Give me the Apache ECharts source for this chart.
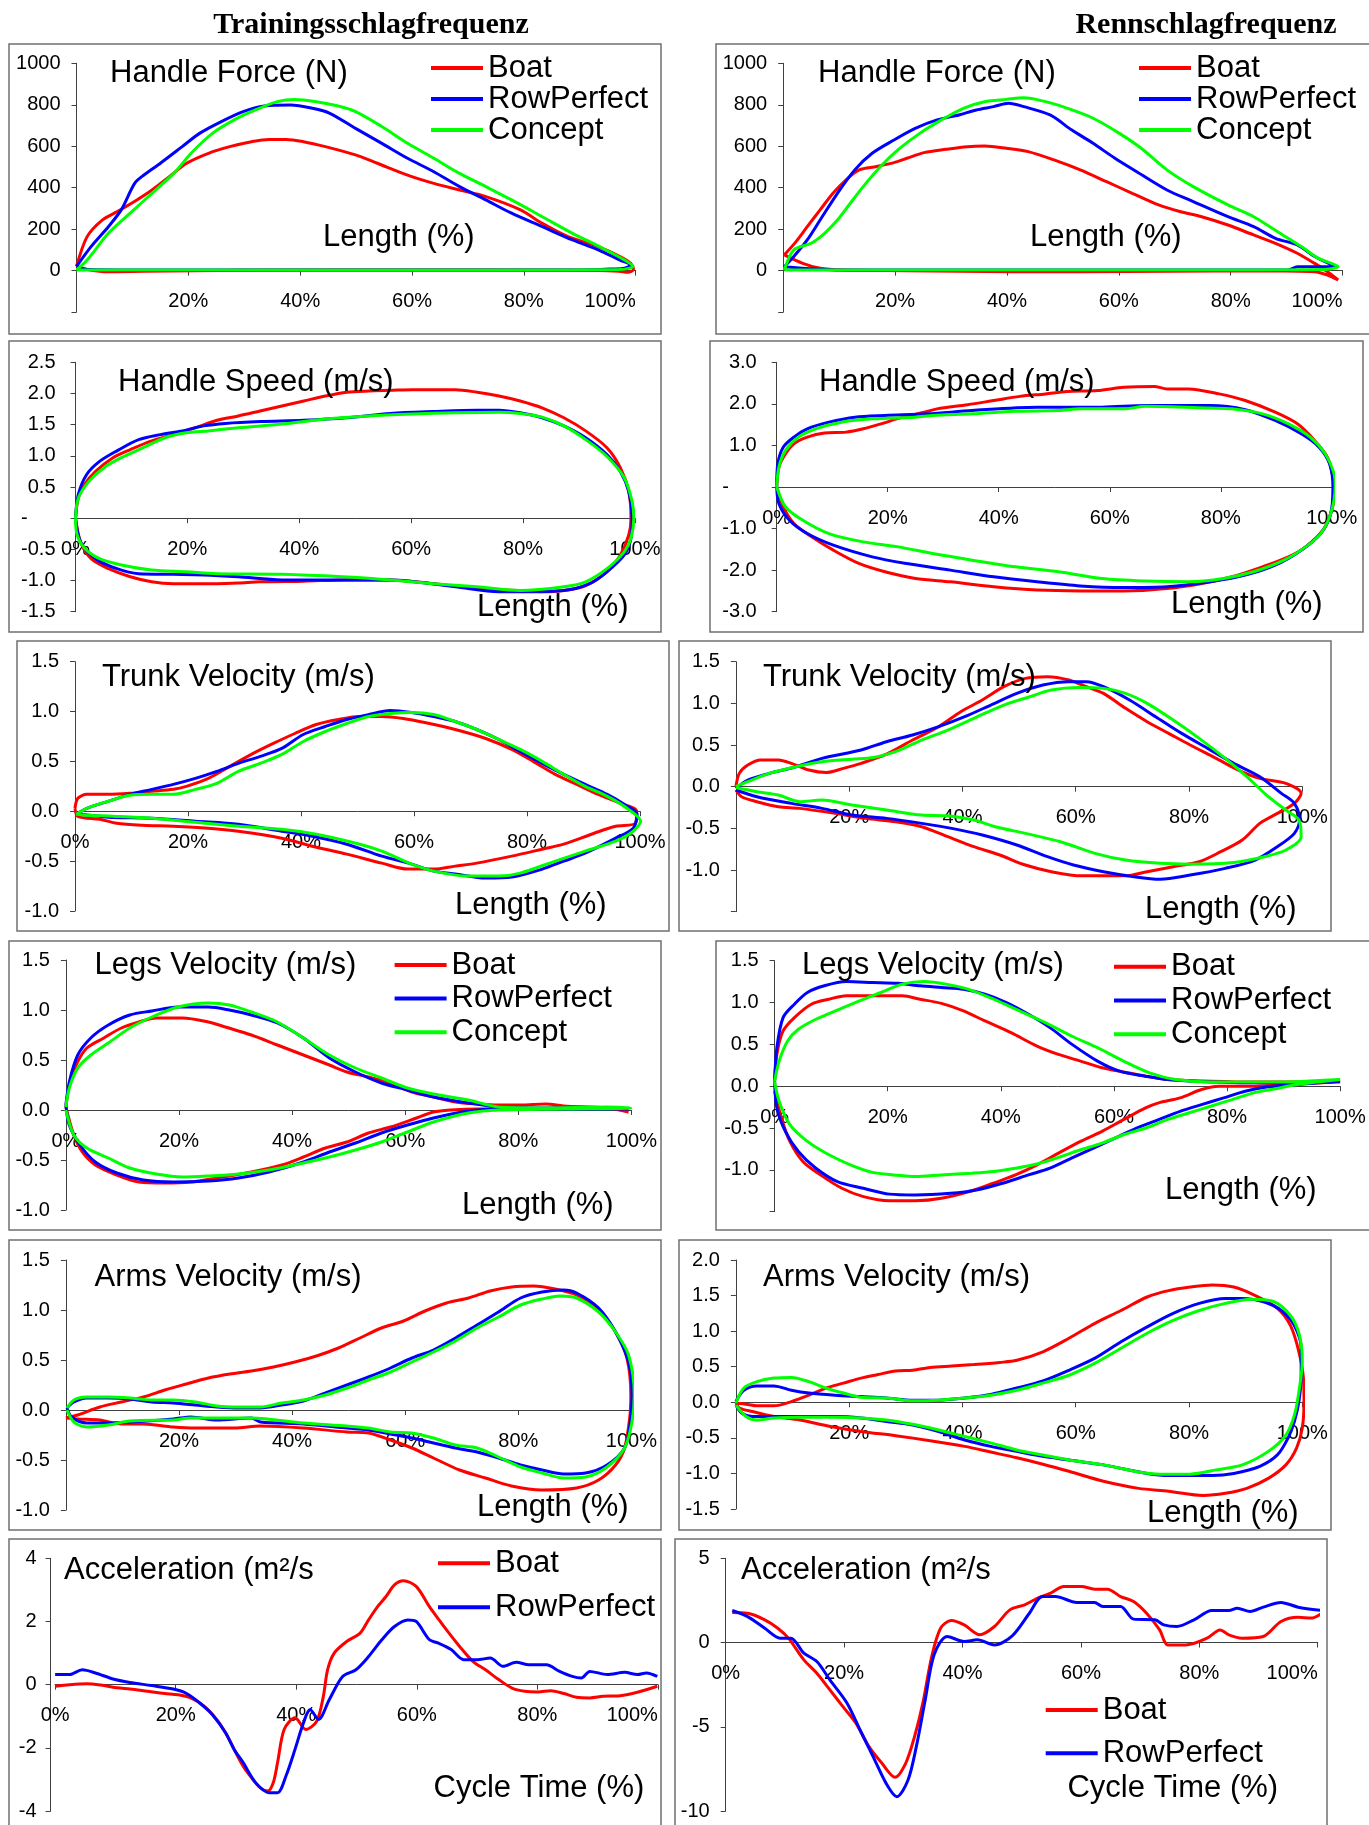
<!DOCTYPE html>
<html><head><meta charset="utf-8">
<script src="https://cdn.jsdelivr.net/npm/echarts@6/dist/echarts.min.js"></script>
<style>html,body{margin:0;padding:0;background:#fff}#c{width:1369px;height:1825px}</style>
</head><body><div id="c"></div>
<script>
// ---------- DATA: [length %, value] along each loop ----------
const hfTrainBoat=[[0,20],[1.9,164],[4.6,244],[7.3,285],[10.8,341],[13.5,389],[16.6,453],[19.7,518],[23.6,566],[27.4,598],[31.3,622],[34.4,633],[37.5,633],[40.6,622],[44.5,598],[49.9,558],[53.8,518],[59.2,461],[63.9,421],[68.5,389],[73.2,357],[79.4,293],[83.3,228],[87.9,164],[93.3,116],[97.2,68],[99.1,35],[99.6,5],[98.6,-8],[97,-3],[90,2],[60,3],[30,2],[12,-3],[5,-5],[2,5],[0,20]];
const hfTrainRP=[[0,20],[2.6,116],[5.7,212],[8,293],[10.4,421],[12,460],[15,518],[18.9,598],[22,662],[25.9,719],[29.8,767],[33.6,794],[38.3,799],[42.2,783],[45.3,759],[49.9,686],[54.6,614],[59.2,542],[63.9,477],[68.5,405],[73.2,341],[77.8,277],[83.3,212],[88.7,148],[93.3,100],[97.2,51],[99.1,27],[98,12],[96,8],[90,3],[50,3],[10,3],[2,5],[0,20]];
const hfTrainConcept=[[0,3],[1.9,51],[5.7,180],[9.6,277],[13.5,373],[17.4,469],[20.5,566],[24.3,662],[28.2,727],[32,775],[35.9,815],[39,826],[42.9,815],[46.8,794],[49.9,767],[54.6,695],[59.2,614],[63.9,542],[68.5,469],[73.2,405],[77.8,341],[83.3,260],[88.7,180],[94.1,108],[98,51],[99.5,20],[97,5],[80,3],[40,3],[10,3],[0,3]];

const hfRaceBoat=[[0.2,76],[2.3,140],[4.3,212],[6.6,293],[8.9,373],[11.2,437],[13.6,486],[16.7,502],[19.8,521],[22.1,542],[25.2,569],[29.1,585],[32.9,598],[36,601],[39.9,590],[43.8,574],[48.4,534],[53.1,486],[57.8,429],[62.4,373],[67.1,317],[70.9,285],[74.8,260],[79.5,220],[84.1,172],[88,132],[91.9,84],[95,35],[97.3,-5],[99.2,-45],[97.3,-21],[95,-5],[85,0],[53,-5],[41,-5],[22,0],[10.5,3],[6.6,11],[3.5,35],[0.2,76]];
const hfRaceRP=[[0.2,19],[1.9,68],[4.3,148],[6.6,244],[9.7,373],[12.8,486],[15.9,566],[19.8,630],[23.6,686],[27.5,727],[31.4,751],[34.5,775],[37.6,791],[40.3,807],[43,791],[47.7,751],[51.6,678],[55.4,614],[59.3,542],[63.2,477],[68.6,389],[73.3,333],[79.5,260],[84.1,212],[88,156],[91.9,124],[95,68],[98.8,19],[95,19],[91.9,19],[90.3,3],[50,3],[10,3],[0.2,19]];
const hfRaceConcept=[[0.2,3],[1.9,100],[5,132],[7.4,180],[9.7,244],[12,325],[14.3,405],[17.4,502],[20.5,582],[24.4,662],[28.3,727],[32.2,783],[36,815],[39.9,826],[43,834],[46.9,815],[50.8,783],[55.4,735],[60.1,662],[64,590],[68.6,486],[73.3,405],[79.5,317],[84.1,260],[88.8,180],[92.6,116],[95.7,59],[99.2,19],[96,5],[80,3],[40,3],[10,3],[0.2,3]];

const hsTrainBoat=[[0,0],[0.5,0.32],[1.6,0.54],[3.6,0.75],[6.7,0.97],[9.8,1.10],[13.6,1.24],[17.5,1.34],[21.4,1.45],[25.3,1.57],[29.1,1.64],[33,1.72],[36.9,1.80],[40.8,1.88],[44.7,1.96],[48.5,2.02],[52.4,2.04],[56.3,2.05],[60.2,2.06],[67.9,2.06],[71.8,2.02],[75.7,1.96],[79.5,1.88],[83.4,1.77],[87.3,1.61],[91.2,1.40],[95,1.13],[97.4,0.81],[98.9,0.43],[99.3,0],[98.9,-0.27],[97.4,-0.59],[95,-0.86],[91.2,-1.08],[87.3,-1.16],[83.4,-1.18],[79.5,-1.16],[71.8,-1.13],[64,-1.05],[56.3,-0.99],[48.5,-0.99],[40.8,-1.01],[33,-1.02],[29.1,-1.04],[25.3,-1.05],[17.5,-1.05],[13.6,-1.02],[9.8,-0.94],[5.9,-0.81],[2.8,-0.65],[0.9,-0.38],[0,0]];
const hsTrainRP=[[0,0],[0.5,0.38],[2,0.70],[4.3,0.91],[7.4,1.08],[11.3,1.26],[15.2,1.34],[19.1,1.40],[22.9,1.48],[26.8,1.52],[33,1.55],[40.8,1.57],[48.5,1.61],[56.3,1.68],[64,1.71],[71.8,1.73],[75.7,1.73],[79.5,1.69],[83.4,1.61],[87.3,1.48],[91.2,1.29],[95,1.02],[97.4,0.75],[98.9,0.43],[99.5,0],[99.3,-0.32],[98.1,-0.59],[95,-0.86],[91.9,-1.05],[87.3,-1.16],[79.5,-1.18],[75.7,-1.18],[67.9,-1.10],[56.3,-0.99],[48.5,-0.99],[36.9,-0.99],[29.1,-0.94],[22.9,-0.91],[17.5,-0.90],[11.3,-0.89],[7.4,-0.81],[3.6,-0.65],[0.9,-0.38],[0,0]];
const hsTrainConcept=[[0,0],[0.5,0.32],[2.4,0.59],[5.1,0.81],[8.2,0.97],[12.1,1.13],[16,1.29],[19.8,1.37],[23.7,1.40],[29.1,1.45],[36.9,1.51],[44.7,1.59],[52.4,1.64],[60.2,1.67],[67.9,1.69],[75.7,1.70],[79.5,1.68],[83.4,1.62],[87.3,1.48],[91.2,1.26],[95,0.99],[98.1,0.65],[99.5,0.27],[99.8,0],[99.3,-0.32],[98.1,-0.54],[95,-0.81],[91.2,-1.02],[87.3,-1.10],[79.5,-1.16],[71.8,-1.10],[64,-1.05],[56.3,-0.99],[47.7,-0.94],[36.9,-0.90],[25.3,-0.89],[19.8,-0.86],[13.6,-0.83],[8.2,-0.75],[4.3,-0.65],[1.6,-0.48],[0.3,-0.27],[0,0]];

const hsRaceBoat=[[0,0],[0.4,0.48],[1.6,0.8],[3.1,1.04],[5.5,1.2],[8.6,1.30],[12.5,1.32],[15.6,1.40],[18.8,1.52],[22.7,1.68],[26.6,1.80],[28.9,1.88],[34.4,1.98],[39.1,2.08],[43.8,2.18],[48.4,2.24],[52.3,2.30],[57.8,2.32],[62.5,2.40],[68,2.42],[70.3,2.36],[74.2,2.36],[79.7,2.24],[84.4,2.08],[89.8,1.80],[93.8,1.52],[96.9,1.12],[99.2,0.72],[100.2,0.24],[100.4,-0.16],[100,-0.56],[98.4,-1.04],[95.3,-1.44],[92.2,-1.68],[87.5,-1.92],[82,-2.16],[76.6,-2.32],[70.3,-2.44],[62.5,-2.50],[54.7,-2.50],[46.9,-2.48],[39.1,-2.40],[31.3,-2.28],[25,-2.20],[19.5,-2.04],[14.8,-1.84],[10.2,-1.52],[6.3,-1.20],[3.1,-0.88],[1.2,-0.48],[0,0]];
const hsRaceRP=[[0,0],[0.2,0.56],[1.2,0.96],[3.1,1.2],[5.5,1.40],[9.4,1.56],[14.1,1.68],[19.5,1.72],[27.3,1.76],[35.2,1.84],[46.9,1.92],[58.6,1.92],[66.4,1.96],[78.1,1.96],[84.4,1.86],[89.8,1.60],[94.5,1.28],[97.7,0.96],[99.6,0.56],[100.2,0],[99.8,-0.64],[98,-1.12],[94.5,-1.52],[89.8,-1.88],[84.4,-2.12],[78.1,-2.28],[70.3,-2.40],[62.5,-2.42],[54.7,-2.38],[46.9,-2.28],[39.1,-2.16],[31.3,-2.0],[23.4,-1.84],[17.2,-1.68],[10.2,-1.40],[5.5,-1.12],[2.3,-0.80],[0.4,-0.40],[0,0]];
const hsRaceConcept=[[0,0],[0.4,0.48],[1.6,0.88],[3.9,1.2],[7,1.40],[11.7,1.56],[17.2,1.64],[25,1.68],[28.1,1.72],[35.2,1.76],[43,1.82],[50.8,1.84],[54.7,1.88],[62.5,1.88],[66.4,1.94],[78.1,1.90],[82,1.88],[87.5,1.76],[92.2,1.52],[96.1,1.2],[98.8,0.8],[100.4,0.32],[100.6,0],[99.8,-0.64],[98,-1.12],[95.3,-1.44],[91.4,-1.76],[85.9,-2.04],[80.5,-2.20],[74.2,-2.28],[66.4,-2.26],[58.6,-2.20],[50.8,-2.04],[43,-1.92],[35.2,-1.76],[28.1,-1.60],[21.9,-1.44],[15.6,-1.32],[9.4,-1.12],[4.7,-0.80],[1.6,-0.48],[0,0]];

const tvTrainBoat=[[0,0.03],[0.5,0.13],[2.1,0.17],[5.9,0.17],[9.7,0.18],[13.6,0.2],[17.4,0.22],[19.7,0.25],[23.6,0.33],[27.4,0.45],[31.2,0.57],[35.1,0.68],[38.9,0.78],[42.7,0.87],[46.6,0.92],[50.4,0.95],[54.3,0.95],[58.1,0.93],[61.9,0.89],[67.3,0.82],[72.7,0.73],[77.3,0.62],[81.1,0.5],[85,0.37],[88.8,0.27],[92.6,0.17],[96.5,0.08],[99.4,0],[99.2,-0.12],[95.7,-0.15],[91.9,-0.22],[86.5,-0.33],[82.7,-0.38],[77.3,-0.45],[71.1,-0.52],[67.3,-0.55],[63.5,-0.58],[58.9,-0.58],[54.3,-0.52],[48.1,-0.43],[42,-0.35],[36.6,-0.27],[28.9,-0.2],[23.6,-0.17],[17.4,-0.15],[12,-0.14],[7.4,-0.12],[4.4,-0.08],[0.5,-0.05],[0,0.03]];
const tvTrainRP=[[0.2,-0.03],[2.1,0.03],[5.9,0.1],[9.7,0.17],[13.6,0.22],[17.4,0.27],[21.3,0.33],[25.1,0.4],[28.9,0.48],[32.8,0.55],[36.6,0.63],[40.4,0.77],[44.3,0.85],[48.1,0.92],[52,0.97],[55.8,1.01],[59.6,0.99],[63.5,0.95],[67.3,0.9],[71.1,0.82],[75,0.72],[78.8,0.6],[82.7,0.48],[86.5,0.37],[90.3,0.27],[94.2,0.17],[97.2,0.07],[99.5,-0.03],[98.8,-0.17],[95.7,-0.27],[90.3,-0.42],[86.5,-0.5],[82.7,-0.58],[77.3,-0.66],[72.7,-0.67],[67.3,-0.63],[63.5,-0.6],[59.6,-0.53],[54.3,-0.45],[48.1,-0.33],[42,-0.25],[36.6,-0.2],[28.9,-0.13],[21.3,-0.1],[13.6,-0.07],[5.9,-0.06],[0.5,-0.03],[0.2,-0.03]];
const tvTrainConcept=[[0.2,-0.03],[2.1,0.03],[5.9,0.1],[9.7,0.16],[13.6,0.17],[17.4,0.17],[21.3,0.22],[25.1,0.28],[28.9,0.4],[32.8,0.48],[36.6,0.57],[40.4,0.7],[44.3,0.8],[48.1,0.88],[52,0.95],[55.8,0.98],[59.6,0.99],[63.5,0.97],[67.3,0.9],[71.1,0.82],[75,0.72],[78.8,0.62],[82.7,0.5],[86.5,0.37],[90.3,0.25],[94.2,0.15],[97.2,0.05],[100.1,-0.1],[98.8,-0.2],[95.7,-0.3],[90.3,-0.4],[85,-0.5],[78.8,-0.62],[75,-0.65],[69.6,-0.65],[63.5,-0.6],[59.6,-0.53],[54.3,-0.4],[50.4,-0.33],[42.7,-0.23],[36.6,-0.18],[28.9,-0.15],[21.3,-0.11],[13.6,-0.07],[6.7,-0.05],[2.1,-0.04],[0.2,-0.03]];

const tvRaceBoat=[[0,0],[0.6,0.16],[2.1,0.26],[4.4,0.32],[7.5,0.32],[9.8,0.28],[12.9,0.2],[15.9,0.17],[19,0.22],[22.1,0.28],[26.6,0.39],[31.2,0.56],[35.8,0.72],[39.7,0.9],[43.5,1.04],[47.3,1.2],[51.1,1.3],[55,1.32],[58.8,1.28],[61.9,1.2],[64.9,1.12],[68.8,0.94],[72.6,0.78],[76.4,0.64],[80.2,0.5],[84.8,0.34],[88.7,0.2],[92.5,0.1],[97.1,0.04],[99.8,-0.08],[98.6,-0.2],[95.6,-0.32],[92.5,-0.44],[89.4,-0.64],[85.6,-0.78],[81.8,-0.9],[77.2,-0.96],[72.6,-1.02],[68.8,-1.07],[61.1,-1.07],[55.7,-1.02],[51.1,-0.94],[46.6,-0.82],[42,-0.72],[37.4,-0.6],[32.8,-0.48],[28.2,-0.42],[22.8,-0.38],[17.5,-0.32],[11.3,-0.26],[7.5,-0.24],[3.7,-0.18],[1,-0.12],[0,-0.04]];
const tvRaceRP=[[0,-0.02],[2.1,0.08],[5.9,0.16],[10.6,0.24],[15.2,0.34],[22.1,0.44],[26.6,0.54],[31.2,0.62],[35.8,0.72],[40.4,0.84],[45,0.98],[49.6,1.12],[54.2,1.22],[58.8,1.26],[61.9,1.26],[64.9,1.2],[69.5,1.04],[74.1,0.84],[78.7,0.64],[83.3,0.46],[87.9,0.28],[92.5,0.12],[96.3,-0.08],[98.6,-0.2],[99.5,-0.4],[98.6,-0.56],[95.6,-0.72],[91.7,-0.88],[86.4,-0.98],[80.2,-1.06],[74.9,-1.11],[70.3,-1.08],[64.9,-1.02],[59.6,-0.94],[55,-0.84],[49.6,-0.7],[43.5,-0.58],[38.1,-0.5],[32.8,-0.44],[26.6,-0.38],[20.5,-0.34],[15.2,-0.26],[9.8,-0.2],[3.7,-0.12],[0,-0.04]];
const tvRaceConcept=[[0,0],[2.1,0.06],[5.9,0.16],[10.6,0.24],[15.2,0.3],[20.5,0.33],[24.3,0.35],[28.2,0.42],[32.8,0.56],[37.4,0.68],[42,0.82],[47.3,0.98],[51.9,1.08],[55.7,1.16],[60.3,1.19],[64.9,1.18],[68.8,1.12],[72.6,1.0],[77.2,0.8],[81.8,0.58],[86.4,0.34],[90.2,0.12],[94,-0.12],[97.1,-0.28],[99.4,-0.4],[99.8,-0.6],[97.1,-0.76],[93.3,-0.84],[87.9,-0.91],[80.2,-0.93],[74.9,-0.92],[68.8,-0.88],[63.4,-0.8],[57.3,-0.66],[51.1,-0.56],[45.8,-0.48],[42,-0.4],[37.4,-0.35],[32.8,-0.34],[26.6,-0.28],[20.5,-0.22],[15.2,-0.16],[11.3,-0.18],[7.5,-0.1],[3.7,-0.06],[0,-0.01]];

const lvTrainBoat=[[0,0.03],[0.6,0.25],[1.8,0.45],[3.7,0.62],[6.7,0.72],[9.8,0.82],[12.9,0.88],[16,0.92],[20.6,0.92],[25.2,0.88],[28.2,0.83],[32.8,0.75],[37.4,0.65],[42,0.55],[46.6,0.45],[49.7,0.38],[53.5,0.33],[57.4,0.27],[61.2,0.18],[65,0.13],[68.9,0.08],[72.7,0.06],[76.5,0.05],[80.4,0.05],[84.9,0.06],[88,0.04],[95.7,0.02],[99.5,-0.02],[95.7,0.02],[88,0.02],[80.4,0.01],[72.7,0.01],[68.1,0],[65,-0.02],[62,-0.08],[57.4,-0.17],[53.5,-0.23],[49.7,-0.32],[45.9,-0.38],[42,-0.47],[38.2,-0.55],[32.8,-0.62],[26.7,-0.68],[22.1,-0.72],[17.5,-0.73],[12.9,-0.72],[9,-0.65],[5.2,-0.55],[2.9,-0.42],[1.4,-0.25],[0,0.03]];
const lvTrainRP=[[0,0.05],[0.6,0.28],[2.1,0.55],[4.4,0.72],[7.5,0.85],[11.3,0.95],[15.2,0.99],[19.8,1.03],[25.2,1.03],[28.9,1.0],[32.8,0.95],[37.4,0.87],[42,0.72],[46.6,0.52],[51.2,0.38],[55.8,0.27],[60.4,0.2],[65,0.13],[71.2,0.07],[76.5,0.03],[84.2,0.02],[91.9,0.02],[99.5,0.01],[88,0.01],[76.5,0.01],[71.2,-0.01],[65,-0.08],[60.4,-0.15],[55.8,-0.23],[51.2,-0.33],[46.6,-0.42],[42,-0.52],[35.9,-0.62],[30.5,-0.68],[25.2,-0.71],[19,-0.72],[13.7,-0.7],[9,-0.63],[5.2,-0.52],[2.5,-0.35],[0.6,-0.15],[0,0.05]];
const lvTrainConcept=[[0,0.03],[0.6,0.22],[2.1,0.42],[4.4,0.55],[7.5,0.67],[11.3,0.82],[15.2,0.93],[19.8,1.03],[25.2,1.07],[28.9,1.05],[32.8,0.98],[37.4,0.88],[42,0.72],[46.6,0.55],[51.2,0.42],[55.8,0.32],[60.4,0.22],[65,0.16],[71.2,0.1],[76.5,0.03],[84.2,0.02],[95.7,0.03],[99.9,0.02],[88,0.01],[76.5,0],[71.2,-0.03],[65,-0.12],[60.4,-0.22],[55.8,-0.32],[51.2,-0.4],[46.6,-0.47],[42,-0.53],[35.9,-0.6],[30.5,-0.64],[25.2,-0.66],[20.6,-0.67],[16,-0.64],[11.3,-0.58],[7.5,-0.48],[3.7,-0.38],[1.4,-0.25],[0,0]];

const lvRaceBoat=[[0,0.06],[0.4,0.38],[1.5,0.66],[3.5,0.82],[6.5,0.98],[9.6,1.04],[12.7,1.08],[17.3,1.08],[22.6,1.08],[25.7,1.04],[29.5,0.99],[33.4,0.9],[37.2,0.78],[41.8,0.64],[46.4,0.48],[50.2,0.38],[54.1,0.3],[57.9,0.22],[61.7,0.17],[65.6,0.12],[69.5,0.08],[77.1,0.06],[84.8,0.05],[92.4,0.05],[100,0.05],[92.4,0.03],[84.8,0],[78.6,0],[75.5,-0.04],[71.7,-0.14],[67.9,-0.2],[65.6,-0.26],[61.7,-0.4],[57.9,-0.54],[54.1,-0.66],[50.2,-0.8],[46.4,-0.94],[42.6,-1.06],[38.7,-1.16],[34.9,-1.25],[29.5,-1.34],[24.9,-1.37],[20.3,-1.37],[15.7,-1.32],[11.9,-1.22],[8.1,-1.06],[5,-0.9],[2.7,-0.66],[1.2,-0.38],[0,-0.06]];
const lvRaceRP=[[0,0.06],[0.4,0.46],[1.5,0.82],[3.5,0.98],[5.8,1.12],[8.8,1.2],[12.7,1.25],[17.3,1.24],[21.9,1.23],[25.7,1.2],[29.5,1.18],[33.4,1.16],[37.2,1.1],[41,1.0],[44.9,0.86],[48.7,0.7],[52.6,0.5],[57.1,0.3],[61,0.18],[65.6,0.12],[69.5,0.08],[77.1,0.05],[88.6,0.04],[100,0.06],[92.4,0.02],[87,-0.01],[83.2,-0.06],[79.4,-0.14],[75.5,-0.22],[71.7,-0.3],[67.9,-0.4],[64,-0.5],[60.2,-0.62],[56.4,-0.74],[52.5,-0.86],[48.7,-0.98],[44.9,-1.06],[40.3,-1.16],[35.7,-1.24],[31.1,-1.28],[24.9,-1.3],[20.3,-1.29],[15.7,-1.22],[11.1,-1.14],[7.3,-0.98],[4.2,-0.78],[1.9,-0.54],[0.4,-0.26],[0,0.06]];
const lvRaceConcept=[[0,0.06],[0.8,0.3],[2.3,0.54],[4.2,0.68],[7.3,0.8],[11.1,0.91],[15,1.02],[18.8,1.12],[22.6,1.22],[26.5,1.25],[30.3,1.22],[34.2,1.16],[38.7,1.04],[43.3,0.9],[47.9,0.76],[52.5,0.6],[57.1,0.46],[61.7,0.3],[66.3,0.16],[70.9,0.08],[77.1,0.05],[88.6,0.05],[100,0.08],[92.4,0.02],[88.6,-0.03],[84.7,-0.08],[80.9,-0.16],[77.1,-0.24],[73.2,-0.32],[69.4,-0.4],[65.6,-0.5],[61.7,-0.58],[57.9,-0.68],[54.1,-0.76],[50.2,-0.85],[46.4,-0.93],[42.6,-0.98],[38.7,-1.02],[34.9,-1.04],[29.5,-1.06],[24.9,-1.08],[21.1,-1.06],[17.3,-1.03],[13.4,-0.94],[9.6,-0.82],[5.8,-0.66],[2.7,-0.46],[0.8,-0.18],[0,0.06]];

const avTrainBoat=[[0,-0.08],[2.1,-0.05],[6,0.03],[9.8,0.08],[13.7,0.13],[17.5,0.2],[21.3,0.26],[25.2,0.32],[29,0.36],[32.8,0.39],[36.7,0.43],[40.5,0.48],[44.3,0.54],[48.2,0.62],[52,0.72],[55.8,0.82],[59.7,0.89],[63.5,0.99],[67.3,1.07],[71.2,1.12],[75,1.19],[78.8,1.23],[82.7,1.24],[86.5,1.21],[90.3,1.15],[94.2,1.0],[97.2,0.78],[99.2,0.52],[99.9,0.15],[99.7,-0.08],[98.8,-0.38],[97.2,-0.55],[94.2,-0.7],[90.3,-0.78],[84.2,-0.8],[78.8,-0.76],[74.2,-0.68],[69.6,-0.6],[65,-0.48],[61.2,-0.38],[57.4,-0.3],[53.5,-0.23],[49.7,-0.22],[42,-0.18],[34.4,-0.16],[29.8,-0.18],[22.9,-0.18],[19,-0.17],[13.7,-0.14],[9.8,-0.14],[6,-0.1],[2.1,-0.09],[0,-0.08]];
const avTrainRP=[[0.2,0.02],[1.4,0.08],[3.7,0.12],[7.5,0.12],[11.3,0.11],[15.2,0.08],[19,0.07],[22.9,0.05],[26.7,0.03],[30.5,0.02],[34.4,0.02],[38.2,0.05],[42,0.09],[45.9,0.17],[49.7,0.25],[53.5,0.33],[57.4,0.42],[61.2,0.52],[65,0.6],[68.9,0.72],[72.7,0.85],[76.5,0.98],[80.4,1.12],[84.2,1.18],[88,1.2],[90.3,1.17],[94.2,1.02],[97.2,0.78],[99.5,0.48],[100.1,0.15],[99.8,-0.12],[98.8,-0.38],[95.7,-0.55],[91.9,-0.63],[88,-0.64],[84.2,-0.6],[80.4,-0.55],[76.5,-0.48],[72.7,-0.42],[68.9,-0.38],[65,-0.33],[61.2,-0.28],[57.4,-0.24],[53.5,-0.2],[49.7,-0.18],[42,-0.14],[34.4,-0.12],[32.8,-0.08],[26.7,-0.1],[22.1,-0.07],[19,-0.09],[11.3,-0.12],[7.5,-0.13],[3.7,-0.13],[1,-0.07],[0.2,0.02]];
const avTrainConcept=[[0.2,0.02],[1.4,0.1],[3.7,0.13],[7.5,0.13],[11.3,0.12],[15.2,0.1],[19,0.1],[22.9,0.08],[26.7,0.04],[30.5,0.03],[34.4,0.03],[38.2,0.07],[42,0.1],[45.9,0.15],[49.7,0.22],[53.5,0.3],[57.4,0.38],[61.2,0.48],[65,0.58],[68.9,0.69],[72.7,0.82],[76.5,0.93],[80.4,1.05],[84.2,1.11],[87.3,1.14],[90.3,1.12],[94.2,0.98],[97.2,0.78],[99.5,0.55],[100.5,0.15],[100.1,-0.12],[98.8,-0.38],[95.7,-0.57],[91.9,-0.67],[88,-0.68],[84.2,-0.63],[80.4,-0.57],[76.5,-0.47],[72.7,-0.38],[68.9,-0.35],[65,-0.28],[61.2,-0.23],[57.4,-0.22],[53.5,-0.18],[49.7,-0.16],[42,-0.13],[32.8,-0.08],[26.7,-0.08],[22.1,-0.08],[19,-0.1],[11.3,-0.11],[7.5,-0.15],[3.7,-0.17],[1.4,-0.12],[0.2,0]];

const avRaceBoat=[[0,-0.01],[2.1,-0.03],[3.7,-0.05],[6.7,-0.05],[9.8,0.01],[12.9,0.1],[15.9,0.2],[19,0.27],[22.1,0.34],[25.1,0.39],[28.2,0.44],[31.2,0.45],[34.3,0.49],[38.1,0.51],[42,0.53],[46.6,0.56],[49.6,0.59],[54.2,0.71],[58.8,0.9],[63.4,1.11],[68,1.29],[72.6,1.48],[76.4,1.57],[80.2,1.62],[84.1,1.65],[87.9,1.62],[91.7,1.5],[95.6,1.32],[97.9,1.08],[99.4,0.71],[100.2,0.34],[100.3,0],[100,-0.36],[99,-0.64],[97.1,-0.88],[94,-1.07],[90.2,-1.21],[86.4,-1.28],[82.5,-1.31],[76.4,-1.25],[71.1,-1.21],[64.9,-1.11],[58.8,-0.97],[54.2,-0.87],[49.6,-0.78],[45,-0.7],[40.4,-0.62],[34.3,-0.54],[28.2,-0.47],[22.1,-0.41],[16.7,-0.34],[11.3,-0.25],[6.7,-0.2],[2.9,-0.13],[0.6,-0.08],[0,-0.01]];
const avRaceRP=[[0,0.01],[1.4,0.17],[3.7,0.23],[6.7,0.23],[9.8,0.17],[12.9,0.13],[17.5,0.1],[22.1,0.08],[26.6,0.06],[31.2,0.03],[35.8,0.03],[40.4,0.06],[45,0.11],[49.6,0.2],[54.2,0.3],[58.8,0.45],[63.4,0.62],[68,0.85],[72.6,1.06],[77.2,1.25],[81.8,1.39],[86.4,1.46],[89.4,1.46],[93.3,1.41],[96.3,1.29],[98.6,1.08],[99.8,0.76],[99.8,0.38],[99.4,0.01],[98.6,-0.27],[97.5,-0.5],[95.6,-0.74],[92.5,-0.9],[87.9,-1.0],[84.1,-1.03],[76.4,-1.03],[72.6,-1.0],[64.9,-0.88],[58.8,-0.81],[54.2,-0.76],[49.6,-0.69],[45,-0.62],[40.4,-0.53],[35.8,-0.41],[31.2,-0.32],[26.6,-0.27],[22.1,-0.22],[17.5,-0.2],[12.9,-0.2],[7.5,-0.2],[2.9,-0.2],[1,-0.15],[0,-0.04]];
const avRaceConcept=[[0,-0.01],[1.4,0.2],[3.7,0.29],[6.7,0.34],[9.8,0.35],[12.9,0.29],[15.9,0.2],[19,0.13],[22.1,0.07],[26.6,0.06],[31.2,0.02],[35.8,0.03],[40.4,0.06],[45,0.1],[49.6,0.17],[54.2,0.27],[58.8,0.38],[63.4,0.55],[68,0.76],[72.6,0.97],[77.2,1.15],[81.8,1.29],[86.4,1.39],[91,1.45],[94.8,1.42],[97.9,1.22],[99.5,0.94],[100,0.57],[99.4,0.15],[98.6,-0.18],[97.1,-0.46],[94,-0.69],[89.4,-0.88],[84.8,-0.95],[80.2,-1.01],[74.9,-1.01],[71.1,-0.98],[64.9,-0.88],[58.8,-0.81],[54.2,-0.74],[49.6,-0.67],[45,-0.57],[40.4,-0.48],[35.8,-0.39],[31.2,-0.31],[26.6,-0.25],[22.1,-0.22],[17.5,-0.21],[11.3,-0.21],[6.7,-0.22],[3.7,-0.25],[1.8,-0.2],[0,-0.04]];

// [cycle time %, acceleration]
const accTrainBoat=[[0,-0.05],[2.4,0],[5.3,0.03],[8.1,-0.03],[10.3,-0.1],[12.4,-0.14],[15.3,-0.21],[18.2,-0.28],[20.4,-0.32],[22.5,-0.42],[24.7,-0.68],[26.8,-1.1],[28.3,-1.53],[29.7,-2.05],[31.2,-2.58],[32.6,-2.95],[34,-3.26],[35.3,-3.37],[36.2,-3.1],[36.9,-2.47],[38,-1.42],[39.8,-1.05],[41.6,-1.42],[43.4,-1.16],[44.5,-0.37],[45.2,0.47],[46.3,1.0],[48.4,1.37],[50.6,1.63],[52,2.05],[53.5,2.47],[54.9,2.79],[56.3,3.16],[57.8,3.29],[59.9,3.11],[62.1,2.47],[63.5,2.1],[64.9,1.74],[67.1,1.21],[69.3,0.74],[71.4,0.47],[73.6,0.16],[75.8,-0.11],[77.9,-0.21],[80.1,-0.23],[82.2,-0.19],[84.4,-0.28],[86.5,-0.4],[88.7,-0.42],[90.9,-0.37],[93.7,-0.35],[96.6,-0.24],[99.9,-0.05]];
const accTrainRP=[[0,0.32],[2.4,0.32],[4.5,0.47],[6.7,0.37],[9.6,0.18],[12.4,0.07],[16,-0.03],[19.6,-0.14],[21.8,-0.28],[24,-0.58],[26.1,-0.95],[28.3,-1.53],[29.7,-2.05],[31.2,-2.47],[33.3,-3.11],[35.5,-3.42],[36.9,-3.42],[38.3,-2.89],[39.8,-2.05],[41.2,-1.21],[42.3,-0.79],[43.7,-1.1],[45.5,-0.47],[47.7,0.26],[49.9,0.47],[52,0.89],[54.2,1.42],[56.3,1.84],[58.5,2.05],[59.9,2.0],[62.1,1.42],[63.5,1.32],[65.7,1.11],[67.8,0.79],[70,0.79],[72.2,0.84],[74.3,0.58],[76.5,0.71],[78.6,0.63],[81.5,0.63],[83.7,0.42],[85.8,0.26],[87.3,0.21],[88.7,0.42],[91.6,0.32],[94.5,0.39],[96.6,0.32],[98.1,0.37],[99.9,0.26]];
const accRaceBoat=[[1.1,1.78],[3.7,1.74],[6.6,1.35],[8.8,0.85],[10.6,0.26],[13.2,-1.03],[15.4,-1.82],[17.6,-2.81],[19.8,-3.8],[22,-4.79],[24.2,-6.18],[26.4,-7.17],[28.6,-8.0],[30.4,-7.17],[31.9,-5.58],[33.3,-3.6],[34.8,-0.83],[36.3,0.85],[38.1,1.31],[40.3,1.05],[42.9,0.46],[45.4,0.95],[48,1.94],[50.5,2.24],[52.7,2.63],[54.9,2.93],[57.1,3.33],[60.1,3.33],[62.3,3.17],[64.5,3.17],[66.7,2.73],[68.9,2.44],[71.1,1.74],[73.3,0.75],[74.7,-0.14],[77.7,-0.14],[81.3,0.26],[83.5,0.75],[85,0.46],[87.2,0.26],[90.8,0.36],[93.8,1.25],[96.7,1.5],[98.9,1.45],[100.7,1.74]];
const accRaceRP=[[1.1,1.9],[3.7,1.54],[6.6,0.85],[9.2,0.26],[11,0.26],[13.2,-0.63],[15.4,-1.13],[17.6,-2.22],[20.5,-3.6],[22.7,-5.19],[24.9,-6.77],[27.1,-8.36],[28.9,-9.15],[30.8,-8.16],[32.2,-6.18],[33.7,-3.41],[35.2,-0.73],[37.4,0.36],[40.3,0.06],[42.5,0.16],[45.4,-0.14],[48.4,0.4],[51.3,1.74],[53.5,2.73],[55.7,2.73],[59.3,2.38],[62.3,2.38],[63.7,2.14],[66.7,2.14],[68.9,1.39],[72.5,1.35],[74,1.05],[76.2,0.95],[79.1,1.35],[82.1,1.9],[85,1.9],[86.4,2.04],[88.6,1.84],[90.8,2.1],[93.8,2.38],[96.7,2.1],[100.7,1.9]];

// ---------- labels ----------
const NAMES3=['Boat','RowPerfect','Concept'];
const NAMES2=['Boat','RowPerfect'];
const COLORS={Boat:'#ff0000',RowPerfect:'#0000ff',Concept:'#00ff00'};
const HEADERS=[['Trainingsschlagfrequenz',371,25],['Rennschlagfrequenz',1206,25]];
const FONT='"Liberation Sans", Arial, sans-serif';

const fmtInt=v=>String(Math.round(v));
const fmtHideNeg=v=>v<0?'':String(Math.round(v));
const fmtDash=v=>Math.abs(v)<1e-9?'-     ':v.toFixed(1);
const fmtF1=v=>v.toFixed(1);
const fmtF1HideMin=v=>v<-1.4?'':v.toFixed(1);

// ---------- layout per panel ----------
const panels=[
 {frame:[9,44,652,290],grid:[76.5,63.3,559.2,248.8],y:[-200,1000,200],yf:fmtHideNeg,ym:16,hide0:true,alignMax:true,
  title:['Handle Force (N)',110,73],xname:['Length (%)',323,237],legend:[431,67,29,NAMES3],
  lines:[['Boat',hfTrainBoat],['RowPerfect',hfTrainRP],['Concept',hfTrainConcept]]},
 {frame:[716,44,660,290],grid:[783.2,63.3,559.4,248.8],y:[-200,1000,200],yf:fmtHideNeg,ym:16,hide0:true,alignMax:true,
  title:['Handle Force (N)',818,73],xname:['Length (%)',1030,237],legend:[1139,67,29,NAMES3],
  lines:[['Boat',hfRaceBoat],['RowPerfect',hfRaceRP],['Concept',hfRaceConcept]]},
 {frame:[9,341,652,291],grid:[75.5,362.3,559.4,249.4],y:[-1.5,2.5,0.5],yf:fmtDash,ym:20,hide0:false,
  title:['Handle Speed (m/s)',118,382],xname:['Length (%)',477,607],
  lines:[['Boat',hsTrainBoat],['RowPerfect',hsTrainRP],['Concept',hsTrainConcept]]},
 {frame:[710,341,653,291],grid:[776.7,362.3,555.1,249.4],y:[-3,3,1],yf:fmtDash,ym:20,hide0:false,
  title:['Handle Speed (m/s)',819,382],xname:['Length (%)',1171,604],
  lines:[['Boat',hsRaceBoat],['RowPerfect',hsRaceRP],['Concept',hsRaceConcept]]},
 {frame:[17,641,652,290],grid:[75,661.7,565,249.3],y:[-1,1.5,0.5],yf:fmtF1,ym:16,hide0:false,
  title:['Trunk Velocity (m/s)',102,677],xname:['Length (%)',455,905],
  lines:[['Boat',tvTrainBoat],['RowPerfect',tvTrainRP],['Concept',tvTrainConcept]]},
 {frame:[679,641,652,290],grid:[735.9,661.7,566.4,250],y:[-1.5,1.5,0.5],yf:fmtF1HideMin,ym:16,hide0:true,
  title:['Trunk Velocity (m/s)',763,677],xname:['Length (%)',1145,909],
  lines:[['Boat',tvRaceBoat],['RowPerfect',tvRaceRP],['Concept',tvRaceConcept]]},
 {frame:[9,941,652,289],grid:[65.9,960,565.5,250],y:[-1,1.5,0.5],yf:fmtF1,ym:16,hide0:false,
  title:['Legs Velocity (m/s)',94.5,965],xname:['Length (%)',462,1205],legend:[394.6,965,33.6,NAMES3],
  lines:[['Boat',lvTrainBoat],['RowPerfect',lvTrainRP],['Concept',lvTrainConcept]]},
 {frame:[716,941,660,289],grid:[774.6,960.7,565.5,251],y:[-1.5,1.5,0.5],yf:fmtF1HideMin,ym:16,hide0:false,
  title:['Legs Velocity (m/s)',802,965],xname:['Length (%)',1165,1190],legend:[1114,966.7,33.8,NAMES3],
  lines:[['Boat',lvRaceBoat],['RowPerfect',lvRaceRP],['Concept',lvRaceConcept]]},
 {frame:[9,1240,652,290],grid:[65.9,1260,565.5,250],y:[-1,1.5,0.5],yf:fmtF1,ym:16,hide0:true,
  title:['Arms Velocity (m/s)',94.5,1277],xname:['Length (%)',477,1507],
  lines:[['Boat',avTrainBoat],['RowPerfect',avTrainRP],['Concept',avTrainConcept]]},
 {frame:[679,1240,652,290],grid:[735.9,1260,566.4,249],y:[-1.5,2,0.5],yf:fmtF1,ym:16,hide0:true,
  title:['Arms Velocity (m/s)',763,1277],xname:['Length (%)',1147,1513],
  lines:[['Boat',avRaceBoat],['RowPerfect',avRaceRP],['Concept',avRaceConcept]]},
 {frame:[9,1539,652,300],grid:[55.1,1558.3,602.8,252.7],y:[-4,4,2],yf:fmtInt,ym:14,yoff:4.5,hide0:false,alignMax:true,
  title:['Acceleration (m²/s',64,1570],xname:['Cycle Time (%)',433.6,1788],legend:[438,1563.3,44,NAMES2],
  lines:[['Boat',accTrainBoat],['RowPerfect',accTrainRP]]},
 {frame:[675,1539,652,300],grid:[725.7,1558.3,592,252.7],y:[-10,5,5],yf:fmtInt,ym:16,hide0:false,alignMax:true,
  title:['Acceleration (m²/s',741,1570],xname:['Cycle Time (%)',1067.4,1788],legend:[1045.7,1710,43.3,NAMES2],
  lines:[['Boat',accRaceBoat],['RowPerfect',accRaceRP]]}
];

const grids=[],xAxes=[],yAxes=[],series=[],legends=[],graphics=[];
const AX='#404040';
panels.forEach((p,i)=>{
  grids.push({left:p.grid[0],top:p.grid[1],width:p.grid[2],height:p.grid[3],containLabel:false});
  // move the x axis (line, ticks, labels) up from the grid bottom to the y=0 level
  const zeroOffset=-p.grid[3]*(0-p.y[0])/(p.y[1]-p.y[0]);
  xAxes.push({type:'value',gridIndex:i,min:0,max:100,interval:20,position:'bottom',offset:zeroOffset,
    axisLine:{show:true,onZero:false,lineStyle:{color:AX,width:1}},
    axisTick:{show:true,length:5,lineStyle:{color:AX}},
    splitLine:{show:false},
    axisLabel:{margin:21,fontSize:20,color:'#000',fontFamily:FONT,showMinLabel:true,showMaxLabel:true,
      alignMaxLabel:p.alignMax?'right':null,
      formatter:v=>(v===0&&p.hide0)?'':(v+'%')}});
  yAxes.push({type:'value',gridIndex:i,min:p.y[0],max:p.y[1],interval:p.y[2],offset:p.yoff||0,
    axisLine:{show:true,onZero:false,lineStyle:{color:AX,width:1}},
    axisTick:{show:true,length:5,lineStyle:{color:AX}},
    splitLine:{show:false},
    axisLabel:{margin:p.ym,fontSize:20,color:'#000',fontFamily:FONT,showMinLabel:true,showMaxLabel:true,formatter:p.yf}});
  p.lines.forEach(([name,data])=>{
    series.push({type:'line',name,xAxisIndex:i,yAxisIndex:i,data,showSymbol:false,symbol:'none',
      smooth:0.3,clip:false,lineStyle:{width:3,color:COLORS[name]},itemStyle:{color:COLORS[name]},
      emphasis:{disabled:true}});
  });
  if(p.legend){
    const [lx,ly,row,names]=p.legend;
    legends.push({data:names,orient:'vertical',left:lx,top:ly-row/2,itemWidth:52,itemHeight:4,icon:'rect',
      itemGap:0,padding:0,selectedMode:false,
      textStyle:{fontSize:31,fontFamily:FONT,color:'#000',lineHeight:row}});
  }
  graphics.push({type:'rect',silent:true,z:1,shape:{x:p.frame[0],y:p.frame[1],width:p.frame[2],height:p.frame[3]},
    style:{fill:'none',stroke:'#707070',lineWidth:1.5}});
  [p.title,p.xname].forEach(t=>{
    graphics.push({type:'text',silent:true,z:100,x:t[1],y:t[2],
      style:{text:t[0],font:'31px '+FONT,fill:'#000',textAlign:'left',align:'left',textVerticalAlign:'middle',verticalAlign:'middle'}});
  });
});
HEADERS.forEach(h=>{
  graphics.push({type:'text',silent:true,z:100,x:h[1],y:h[2],
    style:{text:h[0],font:'bold 30px "Liberation Serif", "Times New Roman", serif',fill:'#000',
      textAlign:'center',align:'center',textVerticalAlign:'middle',verticalAlign:'middle'}});
});

const chart=echarts.init(document.getElementById('c'),null,{renderer:'canvas',width:1369,height:1825});
chart.setOption({
  backgroundColor:'#ffffff',animation:false,
  grid:grids,xAxis:xAxes,yAxis:yAxes,series,legend:legends,graphic:graphics
});
</script></body></html>
